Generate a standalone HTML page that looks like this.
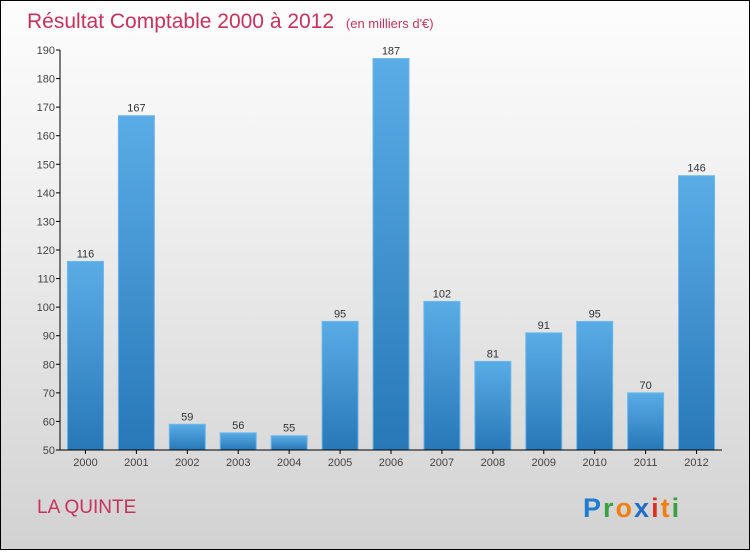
<!DOCTYPE html>
<html><head><meta charset="utf-8"><style>
html,body{margin:0;padding:0}
body{width:750px;height:550px;overflow:hidden;font-family:"Liberation Sans",sans-serif}
#wrap{position:relative;width:748px;height:548px;border:1px solid #000;background:linear-gradient(#fdfdfd,#f2f2f2 30%,#d2d2d2)}
</style></head><body>
<div id="wrap">
<svg id="svg" width="748" height="548" xmlns="http://www.w3.org/2000/svg">
<defs><linearGradient id="bg" x1="0" y1="0" x2="0" y2="1"><stop offset="0" stop-color="#5aace6"/><stop offset="1" stop-color="#2878b8"/></linearGradient></defs>
<text x="26" y="27" font-size="21" fill="#c8325a">Résultat Comptable 2000 à 2012 <tspan font-size="13" dx="6">(en milliers d'€)</tspan></text>
<text x="36" y="512" font-size="19" fill="#c8325a">LA QUINTE</text>
<g font-size="27" font-weight="bold"><text x="582" y="516" letter-spacing="2"><tspan fill="#1e7cd2">P</tspan><tspan fill="#3aa040">r</tspan><tspan fill="#f08010">o</tspan><tspan fill="#1e6cc8">x</tspan><tspan fill="#e03020">i</tspan><tspan fill="#f08010">t</tspan><tspan fill="#3aa040">i</tspan></text></g>
<g id="plot"></g>
</svg></div>
<script>
const categories=["2000","2001","2002","2003","2004","2005","2006","2007","2008","2009","2010","2011","2012"];
const values=[116,167,59,56,55,95,187,102,81,91,95,70,146];
const yTicks=[50,60,70,80,90,100,110,120,130,140,150,160,170,180,190];
const NS="http://www.w3.org/2000/svg";
const g=document.getElementById('plot');
const x0=59,x1=721,yTop=49,yBot=449,vMin=50,vMax=190;
const y=v=>yBot-(v-vMin)/(vMax-vMin)*(yBot-yTop);
const step=(x1-x0)/categories.length;
const xc=i=>x0+step*(i+0.5);
function mk(t,a){const e=document.createElementNS(NS,t);for(const k in a)e.setAttribute(k,a[k]);g.appendChild(e);return e;}
yTicks.forEach(v=>{
 const l=mk('line',{x1:x0-4,x2:x0,y1:y(v),y2:y(v),stroke:'#000'});
 
 
 const t=mk('text',{x:x0-5,y:y(v)+4,'text-anchor':'end','font-size':11,fill:'#444'});
 t.textContent=v;
 
 
});
categories.forEach((c,i)=>{
 const v=values[i],w=36;
 const r=mk('rect',{x:xc(i)-w/2,y:y(v),width:w,height:yBot-y(v),fill:'url(#bg)',stroke:'#6cb8ec','stroke-width':1});
 
 
 const vl=mk('text',{x:xc(i),y:y(v)-4,'text-anchor':'middle','font-size':11,fill:'#333'});
 vl.textContent=v;
 
 
 const tk=mk('line',{x1:xc(i),x2:xc(i),y1:yBot,y2:yBot+4,stroke:'#000'});
 
 
 const xl=mk('text',{x:xc(i),y:yBot+16,'text-anchor':'middle','font-size':11,fill:'#444'});
 xl.textContent=c;
 
 
});
const ya=mk('line',{x1:x0,x2:x0,y1:yTop,y2:yBot,stroke:'#000'});


const xa=mk('line',{x1:x0,x2:x1,y1:yBot,y2:yBot,stroke:'#000'});


</script>
</body></html>
